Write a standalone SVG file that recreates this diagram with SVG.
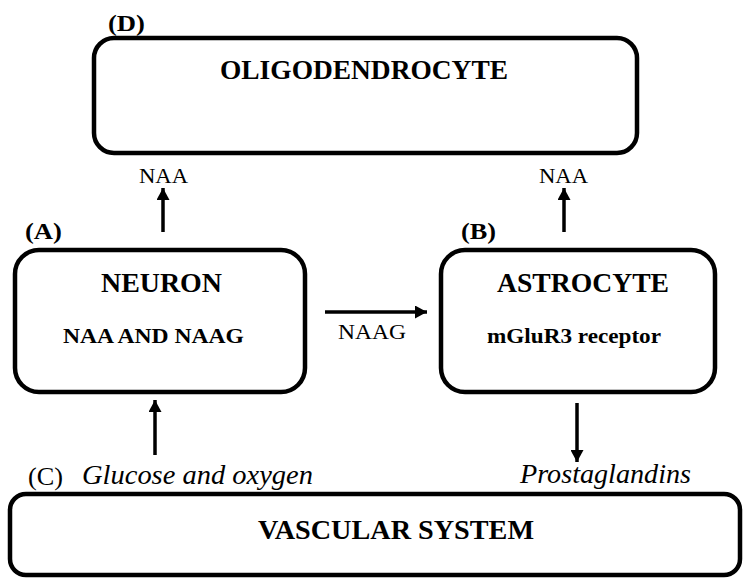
<svg xmlns="http://www.w3.org/2000/svg" width="754" height="584" viewBox="0 0 754 584">
  <defs>
    <marker id="ah" markerUnits="userSpaceOnUse" markerWidth="13" markerHeight="13" refX="12" refY="6.5" orient="auto">
      <path d="M0,0 L12,6.5 L0,13 z" fill="#000"/>
    </marker>
  </defs>
  <style>
    .box { fill: #fff; stroke: #000; stroke-width: 4.5; }
    .t { font-family: "Liberation Serif", "Times New Roman", serif; fill: #000; }
    .b { font-weight: bold; }
    .i { font-style: italic; }
    .arr { stroke: #000; stroke-width: 3.5; fill: none; marker-end: url(#ah); }
  </style>
  <rect width="754" height="584" fill="#fff"/>

  <g id="node-oligodendrocyte">
    <rect class="box" x="94" y="38" width="543" height="115" rx="20" ry="20"/>
    <text class="t b" x="108" y="31" font-size="24" textLength="37" lengthAdjust="spacingAndGlyphs">(D)</text>
    <text class="t b" x="220" y="79" font-size="27" textLength="288" lengthAdjust="spacingAndGlyphs">OLIGODENDROCYTE</text>
  </g>

  <g id="node-neuron">
    <rect class="box" x="15" y="250" width="290" height="142" rx="24" ry="24"/>
    <text class="t b" x="25" y="239" font-size="24" textLength="37" lengthAdjust="spacingAndGlyphs">(A)</text>
    <text class="t b" x="101" y="292" font-size="27" textLength="121" lengthAdjust="spacingAndGlyphs">NEURON</text>
    <text class="t b" x="63" y="343" font-size="22" textLength="181" lengthAdjust="spacingAndGlyphs">NAA AND NAAG</text>
  </g>

  <g id="node-astrocyte">
    <rect class="box" x="441" y="250" width="274" height="142" rx="24" ry="24"/>
    <text class="t b" x="461" y="239" font-size="24" textLength="35" lengthAdjust="spacingAndGlyphs">(B)</text>
    <text class="t b" x="497" y="292" font-size="27" textLength="172" lengthAdjust="spacingAndGlyphs">ASTROCYTE</text>
    <text class="t b" x="487" y="343" font-size="22" textLength="174" lengthAdjust="spacingAndGlyphs">mGluR3 receptor</text>
  </g>

  <g id="node-vascular">
    <rect class="box" x="10" y="494" width="730" height="81" rx="16" ry="16"/>
    <text class="t" x="28" y="485" font-size="26" textLength="35" lengthAdjust="spacingAndGlyphs">(C)</text>
    <text class="t b" x="258" y="539" font-size="27" textLength="276" lengthAdjust="spacingAndGlyphs">VASCULAR SYSTEM</text>
  </g>

  <g id="connectors">
    <line class="arr" x1="163" y1="232" x2="163" y2="188"/>
    <line class="arr" x1="564" y1="232" x2="564" y2="188"/>
    <line class="arr" x1="325" y1="312" x2="427" y2="312"/>
    <line class="arr" x1="155" y1="455" x2="155" y2="400"/>
    <line class="arr" x1="577" y1="403" x2="577" y2="462"/>
    <text class="t" x="139" y="183" font-size="21" textLength="49" lengthAdjust="spacingAndGlyphs">NAA</text>
    <text class="t" x="539" y="183" font-size="21" textLength="49" lengthAdjust="spacingAndGlyphs">NAA</text>
    <text class="t" x="338" y="339" font-size="22" textLength="68" lengthAdjust="spacingAndGlyphs">NAAG</text>
    <text class="t i" x="82" y="484" font-size="27" textLength="231" lengthAdjust="spacingAndGlyphs">Glucose and oxygen</text>
    <text class="t i" x="520" y="483" font-size="27" textLength="171" lengthAdjust="spacingAndGlyphs">Prostaglandins</text>
  </g>
</svg>
